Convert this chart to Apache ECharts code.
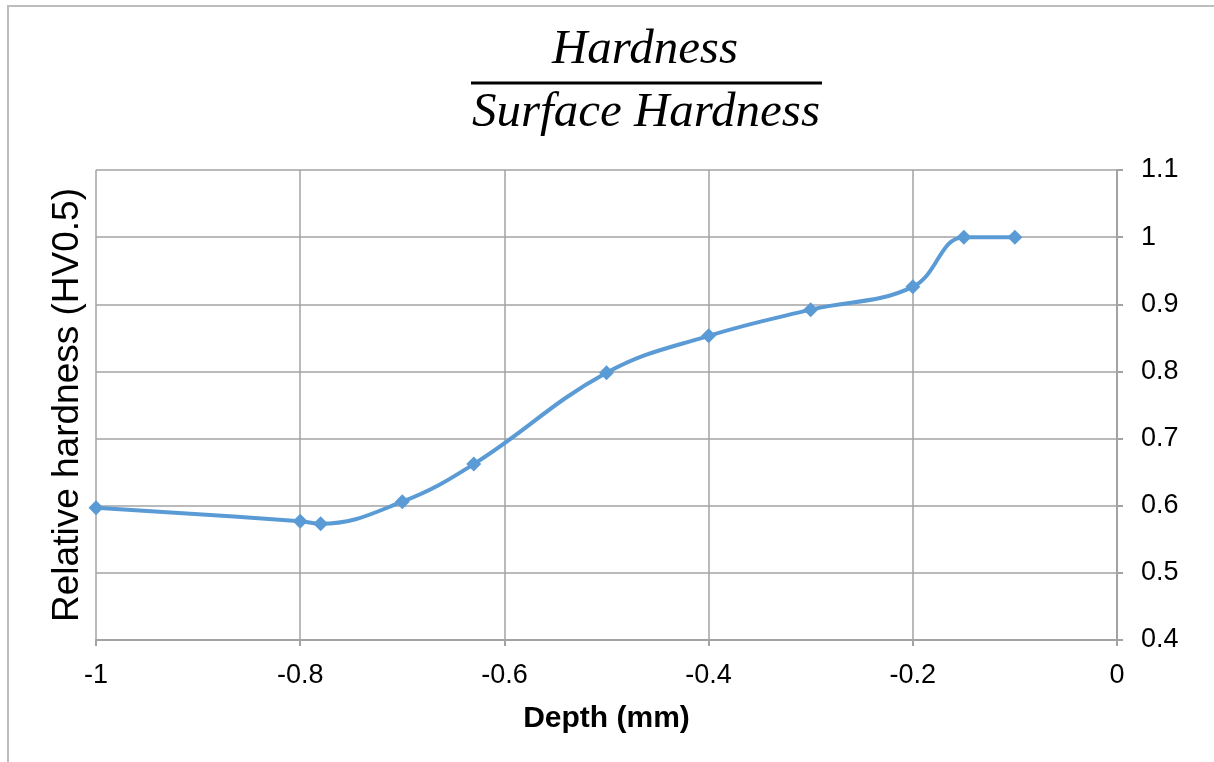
<!DOCTYPE html>
<html lang="en">
<head>
    <meta charset="UTF-8">
    <title>Relative hardness vs depth</title>
    <script src="https://cdn.jsdelivr.net/npm/echarts@6/dist/echarts.min.js"></script>
    <style>
        html, body { margin: 0; padding: 0; background: #fff; }
    </style>
</head>
<body>
<div id="main" style="width: 1214px;height: 762px;"></div>

<script type="text/javascript">
    // depth below surface (mm) and hardness / surface hardness
    var depth = [-1, -0.8, -0.78, -0.7, -0.63, -0.5, -0.4, -0.3, -0.2, -0.15, -0.1];
    var relHardness = [0.597, 0.577, 0.573, 0.606, 0.662, 0.798, 0.853, 0.892, 0.926, 1.0, 1.0];

    var titleTop = 'Hardness';
    var titleBottom = 'Surface Hardness';

    var points = depth.map(function (d, i) { return [d, relHardness[i]]; });

    var myChart = echarts.init(document.getElementById('main'));

    var gridColor = '#a3a3a3';
    var labelFont = 'Liberation Sans';

    var option = {
        animation: false,
        backgroundColor: '#fff',
        grid: {
            left: 96,
            right: 97,
            top: 170,
            bottom: 122
        },
        graphic: [
            { // frame round the chart
                type: 'rect',
                shape: {x: 8, y: 6, width: 1220, height: 780},
                style: {fill: 'none', stroke: '#bdbdbd', lineWidth: 2},
                silent: true
            },
            {
                type: 'text',
                x: 645, y: 50,
                style: {
                    text: titleTop,
                    font: 'italic 49px "Liberation Serif"',
                    fill: '#000',
                    align: 'center',
                    verticalAlign: 'middle'
                }
            },
            { // fraction bar
                type: 'line',
                shape: {x1: 471, y1: 83, x2: 822, y2: 83},
                style: {stroke: '#000', lineWidth: 3}
            },
            {
                type: 'text',
                x: 646, y: 113,
                style: {
                    text: titleBottom,
                    font: 'italic 49px "Liberation Serif"',
                    fill: '#000',
                    align: 'center',
                    verticalAlign: 'middle'
                }
            }
        ],
        xAxis: {
            type: 'value',
            min: -1,
            max: 0,
            interval: 0.2,
            name: 'Depth (mm)',
            nameLocation: 'middle',
            nameGap: 64,
            nameTextStyle: {
                fontFamily: labelFont,
                fontSize: 30,
                fontWeight: 'bold',
                color: '#000'
            },
            axisLine: {show: true, lineStyle: {color: gridColor, width: 2}},
            axisTick: {show: true, length: 6, lineStyle: {color: gridColor, width: 2}},
            axisLabel: {
                fontFamily: labelFont,
                fontSize: 27,
                color: '#000',
                margin: 22
            },
            splitLine: {show: true, lineStyle: {color: gridColor, width: 1.5}}
        },
        yAxis: [
            {
                type: 'value',
                position: 'right',
                min: 0.4,
                max: 1.1,
                interval: 0.1,
                axisLine: {show: true, lineStyle: {color: gridColor, width: 2}},
                axisTick: {show: true, length: 6, lineStyle: {color: gridColor, width: 2}},
                axisLabel: {
                    fontFamily: labelFont,
                    fontSize: 27,
                    color: '#000',
                    margin: 24
                },
                splitLine: {show: true, lineStyle: {color: gridColor, width: 1.5}}
            },
            { // left side only carries the axis title
                type: 'value',
                position: 'left',
                min: 0.4,
                max: 1.1,
                interval: 0.1,
                name: 'Relative hardness (HV0.5)',
                nameLocation: 'middle',
                nameGap: 10,
                nameTextStyle: {
                    fontFamily: labelFont,
                    fontSize: 37,
                    color: '#000'
                },
                axisLine: {show: false},
                axisTick: {show: false},
                axisLabel: {show: false},
                splitLine: {show: false}
            }
        ],
        series: [
            {
                type: 'line',
                yAxisIndex: 0,
                data: points,
                smooth: 0.4,
                symbol: 'diamond',
                symbolSize: 15,
                showSymbol: true,
                itemStyle: {color: '#5b9bd5'},
                lineStyle: {color: '#5b9bd5', width: 4}
            }
        ]
    };

    myChart.setOption(option);
</script>
</body>
</html>
